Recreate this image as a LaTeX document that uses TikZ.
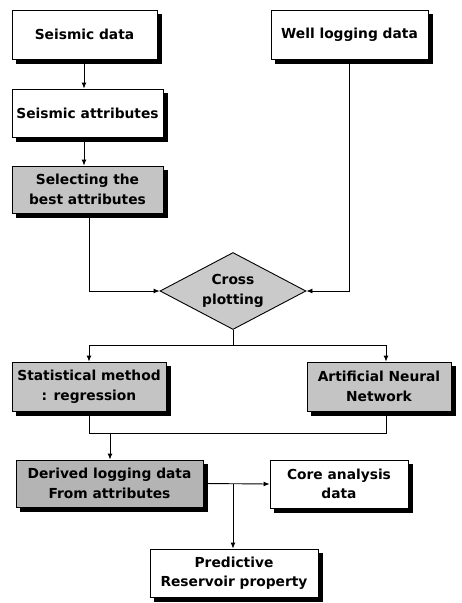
\documentclass[tikz,border=0pt]{standalone}
\usepackage{fontspec}
\setmainfont{DejaVu Sans}
\usetikzlibrary{shapes.geometric,arrows.meta,backgrounds}
\definecolor{grayA}{HTML}{C4C4C4}
\definecolor{grayB}{HTML}{B4B4B4}
\definecolor{grayC}{HTML}{CACACA}
\tikzset{
  txt/.style={font=\fontsize{13.8}{19.5}\selectfont\bfseries},
  boxbase/.style={draw=black, line width=0.9pt, align=center, inner sep=0pt, txt},
  wbox/.style={boxbase, fill=white},
  gbox/.style={boxbase, fill=grayA},
  dbox/.style={boxbase, fill=grayB},
  shadowfill/.style={fill=black},
  conn/.style={draw=black, line width=0.9pt},
  arr/.style={conn, -{Latex[length=6pt,width=5pt]}}
}
\newcommand{\boxshadow}[1]{\fill[shadowfill] ([shift={(4.5pt,-4.5pt)}]#1.south west) rectangle ([shift={(4.5pt,-4.5pt)}]#1.north east);}
\begin{document}
\begin{tikzpicture}[x=1pt,y=-1pt]
\useasboundingbox (0,0) rectangle (461,603);
\node[wbox, minimum width=145pt, minimum height=49pt] (sd) at (84.5,34.5) {Seismic data};
\node[wbox, minimum width=157pt, minimum height=49pt] (wl) at (349.5,34.5) {Well logging data};
\node[wbox, minimum width=151pt, minimum height=48pt] (sa) at (87.5,113) {Seismic attributes};
\node[gbox, minimum width=151pt, minimum height=47pt] (sb) at (87.5,189.5) {Selecting the\\best attributes};
\node[diamond, aspect=1.9, draw=black, line width=0.9pt, fill=grayC, minimum width=146pt, minimum height=77pt, inner sep=0pt, align=center, txt] (cp) at (233,291) {Cross\\plotting};
\node[gbox, minimum width=154pt, minimum height=49pt] (sm) at (89,386.5) {Statistical method\\: regression};
\node[gbox, minimum width=144pt, minimum height=49pt] (ann) at (379,386.5) {Artificial Neural\\Network};
\node[dbox, minimum width=187pt, minimum height=47pt] (dl) at (109.5,483.5) {Derived logging data\\From attributes};
\node[wbox, minimum width=138pt, minimum height=48pt] (ca) at (339,484) {Core analysis\\data};
\node[wbox, minimum width=168pt, minimum height=48pt] (pr) at (234,573) {Predictive\\Reservoir property};

\begin{scope}[on background layer]
\boxshadow{sd}\boxshadow{wl}\boxshadow{sa}\boxshadow{sb}\boxshadow{sm}
\boxshadow{ann}\boxshadow{dl}\boxshadow{ca}\boxshadow{pr}
\end{scope}

\coordinate (c1) at (233,345);
\coordinate (c2) at (110,433);
\coordinate (c3) at (233,484);

\draw[arr] ([xshift=-0.5pt]sd.south) -- ([xshift=-0.5pt]sd.south |- sa.north);
\draw[arr] ([xshift=-3.5pt]sa.south) -- ([xshift=-3.5pt]sa.south |- sb.north);
\draw[arr] ([xshift=1.5pt]sb.south) |- (cp.west);
\draw[arr] (wl.south) |- (cp.east);
\draw[conn] (cp.south) -- (c1);
\draw[arr] (c1) -| (sm.north);
\draw[arr] (c1) -| ([xshift=7pt]ann.north);
\draw[conn] (sm.south) |- (c2 -| 386,0) -- ([xshift=7pt]ann.south);
\draw[arr] (c2) -- (c2 |- dl.north);
\draw[arr] (dl.east) -- (ca.west);
\draw[arr] (c3) -- (c3 |- pr.north);
\end{tikzpicture}
\end{document}
